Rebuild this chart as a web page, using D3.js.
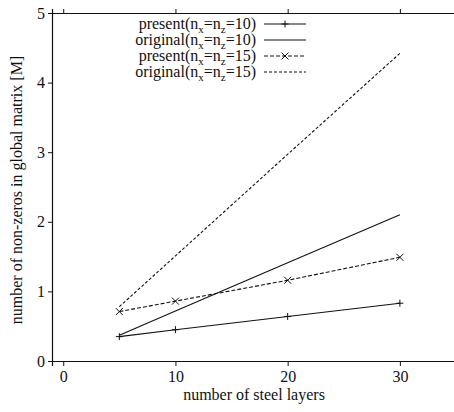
<!DOCTYPE html>
<html>
<head>
<meta charset="utf-8">
<script src="https://cdn.jsdelivr.net/npm/d3@7"></script>
<style>
    body { margin: 0; background: #fff; }
    text { font-family: "Liberation Serif", "DejaVu Serif", serif; }
</style>
</head>
<body>
<div id="chart"></div>
<script>
// steel layers on x
var layers = [5, 10, 20, 30];
// non-zeros [M]
var present10 = [0.35, 0.45, 0.64, 0.83];
var original10 = [0.37, 0.72, 1.41, 2.10];
var present15 = [0.71, 0.86, 1.16, 1.49];
var original15 = [0.78, 1.51, 2.97, 4.42];

var xTicks = [0, 10, 20, 30];
var yTicks = [0, 1, 2, 3, 4, 5];

var seriesNames = ["present", "original", "present", "original"];
var seriesN = ["10", "10", "15", "15"];

function init() {
    var w = 454;
    var h = 412;

    var x = d3.scaleLinear().domain([-1, 35]).range([52, 456]);
    var y = d3.scaleLinear().domain([0, 5]).range([361, 13]);

    var svg = d3.select("#chart")
        .append("svg")
        .attr("width", w)
        .attr("height", h);

    // axes
    var bottom = svg.append("g")
        .attr("transform", "translate(0," + y(0) + ")")
        .call(d3.axisBottom(x).tickValues(xTicks).tickFormat(d3.format("d")).tickSize(5).tickPadding(5));
    var top = svg.append("g")
        .attr("transform", "translate(0," + y(5) + ")")
        .call(d3.axisTop(x).tickValues(xTicks).tickSize(4).tickFormat(""));
    var left = svg.append("g")
        .attr("transform", "translate(" + x(-1) + ",0)")
        .call(d3.axisLeft(y).tickValues(yTicks).tickFormat(d3.format("d")).tickSize(4).tickPadding(3));

    [bottom, top, left].forEach(function (g) {
        g.select(".domain").attr("stroke", "#111").attr("stroke-width", 1.2);
        g.selectAll(".tick line").attr("stroke", "#111");
        g.selectAll("text")
            .attr("font-family", "Liberation Serif")
            .attr("font-size", "16px")
            .attr("fill", "#111");
    });

    var line = d3.line()
        .x(function (d) { return x(d[0]); })
        .y(function (d) { return y(d[1]); });

    var series = [
        { vals: present10, dash: null, marker: "plus" },
        { vals: original10, dash: null, marker: null },
        { vals: present15, dash: "4,2", marker: "cross" },
        { vals: original15, dash: "3,2", marker: null }
    ];

    function marker(g, type, cx, cy) {
        var s = 3.5;
        if (type === "plus") {
            g.append("path")
                .attr("d", "M" + (cx - s) + "," + cy + "H" + (cx + s) + "M" + cx + "," + (cy - s) + "V" + (cy + s))
                .attr("stroke", "#111").attr("stroke-width", 1);
        } else if (type === "cross") {
            g.append("path")
                .attr("d", "M" + (cx - s) + "," + (cy - s) + "L" + (cx + s) + "," + (cy + s) + "M" + (cx - s) + "," + (cy + s) + "L" + (cx + s) + "," + (cy - s))
                .attr("stroke", "#111").attr("stroke-width", 1);
        }
    }

    series.forEach(function (s) {
        var pts = layers.map(function (l, i) { return [l, s.vals[i]]; });
        svg.append("path")
            .datum(pts)
            .attr("d", line)
            .attr("fill", "none")
            .attr("stroke", "#111")
            .attr("stroke-width", 1.1)
            .attr("stroke-dasharray", s.dash);
        if (s.marker) {
            var g = svg.append("g");
            pts.forEach(function (p) { marker(g, s.marker, x(p[0]), y(p[1])); });
        }
    });

    // legend
    var legendY = [24, 40, 56, 72];
    var leg = svg.append("g");
    series.forEach(function (s, i) {
        var t = leg.append("text")
            .attr("x", 256)
            .attr("y", legendY[i] + 5)
            .attr("text-anchor", "end")
            .attr("font-size", "16px")
            .attr("fill", "#111");
        t.append("tspan").text(seriesNames[i] + "(n");
        t.append("tspan").attr("font-size", "11px").attr("dy", 4).text("x");
        t.append("tspan").attr("dy", -4).text("=n");
        t.append("tspan").attr("font-size", "11px").attr("dy", 4).text("z");
        t.append("tspan").attr("dy", -4).text("=" + seriesN[i] + ")");

        leg.append("line")
            .attr("x1", 264).attr("x2", 306)
            .attr("y1", legendY[i]).attr("y2", legendY[i])
            .attr("stroke", "#111")
            .attr("stroke-width", 1.1)
            .attr("stroke-dasharray", s.dash);
        if (s.marker) marker(leg, s.marker, 285, legendY[i]);
    });

    // axis titles
    svg.append("text")
        .attr("x", 254)
        .attr("y", 400)
        .attr("text-anchor", "middle")
        .attr("font-size", "16px")
        .attr("fill", "#111")
        .text("number of steel layers");

    svg.append("text")
        .attr("transform", "translate(22,190) rotate(-90)")
        .attr("text-anchor", "middle")
        .attr("font-size", "16px")
        .attr("fill", "#111")
        .text("number of non-zeros in global matrix [M]");
}

window.onload = init;
</script>
</body>
</html>
